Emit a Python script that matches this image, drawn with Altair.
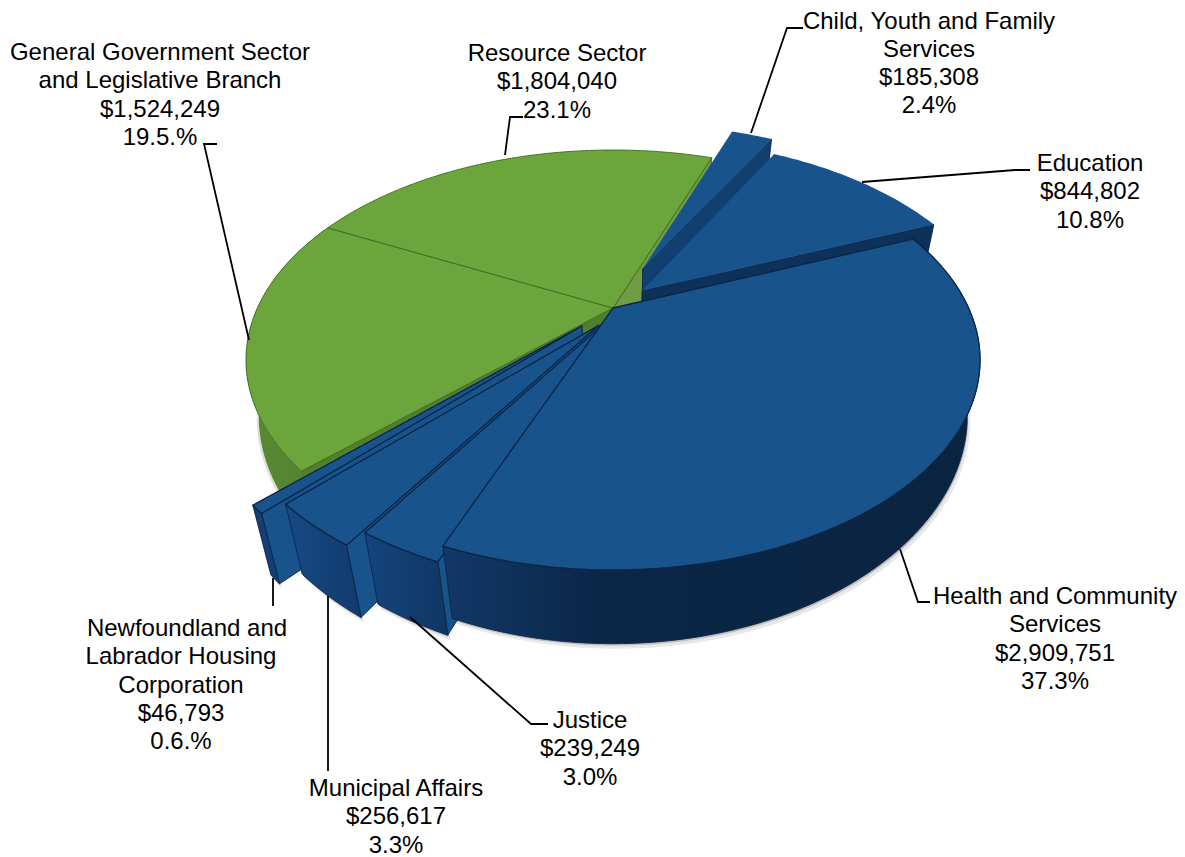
import math
import altair as alt
import pandas as pd

# ---- data ----
names = [
    ["Health and Community", "Services"],
    ["Justice"],
    ["Municipal Affairs"],
    ["Newfoundland and", "Labrador Housing", "Corporation"],
    ["General Government Sector", "and Legislative Branch"],
    ["Resource Sector"],
    ["Child, Youth and Family", "Services"],
    ["Education"],
]
values = [2909751, 239249, 256617, 46793, 1524249, 1804040, 185308, 844802]
percents = ["37.3%", "3.0%", "3.3%", "0.6.%", "19.5.%", "23.1%", "2.4%", "10.8%"]

# ---- layout and style ----
W, H = 1169, 849
XC, YC = 613.0, 308.0      # pie centre on the page
A, B, T = 355.6, 197.1, 0.2476   # projection of the unit circle
D0, K = 58.0, 0.06  # lower rim relative to upper rim
START = -22.5
offsets = [(0, 0), (-0.005, 0.047), (-0.038, 0.085), (-0.085, 0.115),
           (0, 0), (0, 0), (0.088, -0.21), (0.084, -0.09)]
apex_offsets = [(0, 0), (-0.005, 0.047), (-0.038, 0.085), (-0.085, 0.088),
                (0, 0), (0, 0), (0.088, -0.21), (0.084, -0.09)]
TOP_BLUE, TOP_GREEN = "#19538c", "#6ca53c"
EDGE_BLUE, EDGE_GREEN = "#0a2547", "#3d6b1f"
FONT = "Liberation Sans"
FS = 24
label_cx = [
    [1055] * 4,
    [590] * 3,
    [396] * 3,
    [187, 181, 181, 181, 181],
    [160] * 4,
    [557] * 3,
    [929] * 4,
    [1090] * 3,
]
label_y0 = [597, 721, 789, 629, 53, 54, 21.5, 164]
line_h = 28.3
leaders = [
    [(930, 602), (918, 602), (900, 549)],
    [(548, 724), (531, 724), (410, 617)],
    [(328, 771), (328, 596)],
    [(273, 606), (273, 578)],
    [(217, 144), (204, 144), (249, 340)],
    [(523, 117), (510, 117), (505, 155)],
    [(803, 28), (787, 28), (751, 133)],
    [(1030, 170), (1015, 170), (862, 182)],
]

total = sum(values)
x_scale = alt.Scale(domain=[8, 8 + W], range=[0, W], nice=False, zero=False)
y_scale = alt.Scale(domain=[8, 8 + H], range=[0, H], nice=False, zero=False)
X = alt.X("x:Q", scale=x_scale, axis=None)
Y = alt.Y("y:Q", scale=y_scale, axis=None)


def top(u, v):
    w = 1 - T * v
    return XC + A * u / w, YC + B * v / w


def low(p):
    x, y = p
    s = 0.035 + 0.02 * max(0.0, y - 360.0) / 190.0
    return XC + (x - XC) * (1 - s), y + D0 + K * (y - YC)


def grad(*stops):
    return {
        "gradient": "linear", "x1": 0, "x2": 1, "y1": 0, "y2": 0,
        "stops": [{"offset": o, "color": c} for o, c in stops],
    }


def poly(pts, fill, stroke=None, sw=0.9, opacity=None):
    df = pd.DataFrame({"x": [p[0] for p in pts], "y": [p[1] for p in pts], "i": range(len(pts))})
    kw = dict(interpolate="linear-closed", fill=fill, strokeWidth=sw, clip=False)
    kw["stroke"] = stroke if stroke else "transparent"
    if opacity is not None:
        kw["opacity"] = opacity
    return alt.Chart(df).mark_line(**kw).encode(x=X, y=Y, order=alt.Order("i:Q"))


# geometry of each slice, from its value
slices = []
ang = START
for val, (ou, ov), (au, av) in zip(values, offsets, apex_offsets):
    span = 360.0 * val / total
    a0, a1 = ang, ang + span
    n = max(2, int(span) + 1)
    arc = []
    for j in range(n + 1):
        t = math.radians(a0 + (a1 - a0) * j / n)
        arc.append(top(ou + math.cos(t), ov + math.sin(t)))
    slices.append({"apex": top(au, av), "arc": arc})
    ang = a1

HEALTH, JUSTICE, MUNI, HOUSING, GG, RES, CHILD, EDU = range(8)


def top_face(i, col, edge, sw=1.3):
    s = slices[i]
    return poly([s["apex"]] + s["arc"], col, edge, sw=sw)


def outer_wall(i, fill, edge):
    arc = slices[i]["arc"]
    return poly(arc + [low(p) for p in reversed(arc)], fill, edge)


def cut_face(i, which, fill, edge):
    s = slices[i]
    c = s["arc"][which]
    return poly([s["apex"], c, low(c), low(s["apex"])], fill, edge)


def shadow(i, dx, dy, op):
    arc = slices[i]["arc"]
    return poly([(low(p)[0] + dx, low(p)[1] + dy) for p in arc] + list(reversed(arc)), "#666666", None, opacity=op)


layers = []
for dx, dy, op in [(1, 2, 0.3), (3, 5, 0.14)]:
    layers += [shadow(k, dx, dy, op) for k in (HEALTH, JUSTICE, MUNI, HOUSING)]
layers += [
    shadow(GG, -2, 2, 0.2),
    cut_face(GG, 0, "#527f2e", EDGE_GREEN),
    outer_wall(GG, grad((0, "#5a8a33"), (1, "#527f2e")), None),
    cut_face(RES, -1, "#6f9c45", EDGE_GREEN),
    top_face(GG, TOP_GREEN, EDGE_GREEN, 0.9),
    top_face(RES, TOP_GREEN, EDGE_GREEN, 0.9),
    cut_face(CHILD, -1, "#123f72", EDGE_BLUE),
    top_face(CHILD, TOP_BLUE, None),
    cut_face(EDU, -1, "#0e3159", EDGE_BLUE),
    top_face(EDU, TOP_BLUE, None),
    cut_face(HOUSING, 0, TOP_BLUE, EDGE_BLUE),
    outer_wall(HOUSING, "#133f74", EDGE_BLUE),
    top_face(HOUSING, TOP_BLUE, EDGE_BLUE),
    cut_face(MUNI, 0, TOP_BLUE, EDGE_BLUE),
    outer_wall(MUNI, grad((0, "#164a85"), (1, "#113a6c")), EDGE_BLUE),
    top_face(MUNI, TOP_BLUE, EDGE_BLUE),
    cut_face(JUSTICE, 0, TOP_BLUE, EDGE_BLUE),
    outer_wall(JUSTICE, grad((0, "#14457d"), (1, "#103664")), EDGE_BLUE),
    top_face(JUSTICE, TOP_BLUE, EDGE_BLUE),
    outer_wall(HEALTH, grad((0, "#123869"), (0.15, "#0e2f57"), (0.3, "#0b2646"), (1, "#0a2440")), EDGE_BLUE),
    top_face(HEALTH, TOP_BLUE, EDGE_BLUE),
]

# leader lines
for pts in leaders:
    df = pd.DataFrame({"x": [p[0] for p in pts], "y": [p[1] for p in pts], "i": range(len(pts))})
    layers.append(
        alt.Chart(df).mark_line(color="black", strokeWidth=1.8).encode(x=X, y=Y, order=alt.Order("i:Q"))
    )

# labels
rows = []
for nm, val, pct, cxs, y0 in zip(names, values, percents, label_cx, label_y0):
    lines = nm + ["${:,}".format(val), pct]
    for k, txt in enumerate(lines):
        rows.append({"x": cxs[k], "y": y0 + k * line_h, "t": txt})
layers.append(
    alt.Chart(pd.DataFrame(rows))
    .mark_text(font=FONT, fontSize=FS, align="center", baseline="middle", color="black")
    .encode(x=X, y=Y, text="t:N")
)

chart = (
    alt.layer(*layers)
    .properties(width=W, height=H, padding=0, autosize=alt.AutoSizeParams(type="none"), background="white")
    .configure_view(stroke=None)
)
chart.save("out.html", embed_options={"renderer": "svg", "actions": False})
